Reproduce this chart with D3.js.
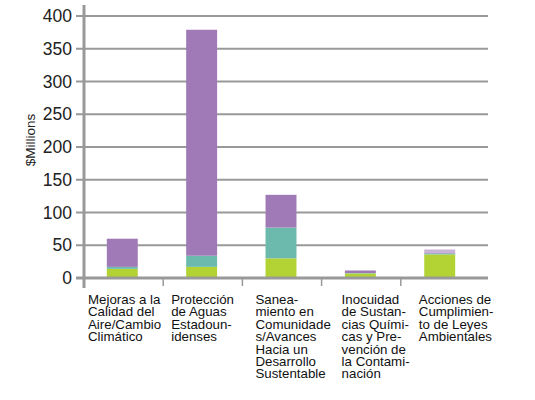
<!DOCTYPE html>
<html>
<head>
<meta charset="utf-8">
<script src="https://cdn.jsdelivr.net/npm/d3@7"></script>
<style>
  body { margin: 0; background: #fff; }
  .tick-label { font-family: "Liberation Sans Narrow", "Arial Narrow", sans-serif; font-size: 17.5px; fill: #222; }
  .cat-label { font-family: "Liberation Sans", Arial, sans-serif; font-size: 13.3px; fill: #111; }
  .y-title { font-family: "Liberation Sans", Arial, sans-serif; font-size: 13.5px; fill: #222; }
</style>
</head>
<body>
<div id="chart"></div>
<script>
// Categories (label lines as printed under each bar)
const categories = ["aire", "aguas", "saneamiento", "quimicas", "leyes"];
const categoryLines = [
    ["Mejoras a la", "Calidad del", "Aire/Cambio", "Climático"],
    ["Protección", "de Aguas", "Estadoun-", "idenses"],
    ["Sanea-", "miento en", "Comunidade", "s/Avances", "Hacia un", "Desarrollo", "Sustentable"],
    ["Inocuidad", "de Sustan-", "cias Quími-", "cas y Pre-", "vención de", "la Contami-", "nación"],
    ["Acciones de", "Cumplimien-", "to de Leyes", "Ambientales"]
];

// Stacked series values ($Millions), bottom to top
const greenValues    = [14, 17, 30, 7, 36];
const tealValues     = [3, 17, 47, 0.5, 1.5];
const purpleValues   = [43, 345, 50, 4, 1.5];
const lavenderValues = [0, 0, 0, 0, 4.5];

const yTicks = [0, 50, 100, 150, 200, 250, 300, 350, 400];

const seriesKeys = ["green", "teal", "purple", "lavender"];
const seriesColors = { green: "#b3d334", teal: "#6bbaad", purple: "#a07ab7", lavender: "#c8b3d7" };

// Table built for d3.stack
const table = categories.map((c, i) => ({
    cat: c,
    green: greenValues[i],
    teal: tealValues[i],
    purple: purpleValues[i],
    lavender: lavenderValues[i]
}));

const width = 535, height = 400;
const plot = { left: 84, right: 480, top: 16, bottom: 278, gridEnd: 488 };

const svg = d3.select("#chart").append("svg")
    .attr("width", width)
    .attr("height", height);

const x = d3.scaleBand()
    .domain(categories)
    .range([plot.left, plot.right])
    .paddingInner(0.61)
    .paddingOuter(0.3);

// band boundaries (without padding) for ticks and labels
const xb = d3.scaleBand()
    .domain(categories)
    .range([plot.left, plot.right]);

const y = d3.scaleLinear()
    .domain([0, 400])
    .range([plot.bottom, plot.top]);

// Gridlines (they also form the left tick marks)
svg.append("g")
    .selectAll("line")
    .data(yTicks.filter(d => d > 0))
  .enter().append("line")
    .attr("x1", plot.left - 8)
    .attr("x2", plot.gridEnd)
    .attr("y1", d => y(d))
    .attr("y2", d => y(d))
    .attr("stroke", "#999")
    .attr("stroke-width", 2);

// Y tick labels
svg.append("g")
    .selectAll("text")
    .data(yTicks)
  .enter().append("text")
    .attr("class", "tick-label")
    .attr("x", plot.left - 12)
    .attr("y", d => y(d))
    .attr("dy", "0.35em")
    .attr("text-anchor", "end")
    .text(d => d);

// Y axis title
svg.append("text")
    .attr("class", "y-title")
    .attr("transform", "translate(35,140) rotate(-90)")
    .attr("text-anchor", "middle")
    .text("$Millions");

// Stacked bars
const stacked = d3.stack().keys(seriesKeys)(table);

svg.append("g")
    .selectAll("g")
    .data(stacked)
  .enter().append("g")
    .attr("fill", d => seriesColors[d.key])
  .selectAll("rect")
    .data(d => d)
  .enter().append("rect")
    .attr("x", d => x(d.data.cat) - 1)
    .attr("width", x.bandwidth())
    .attr("y", d => y(d[1]))
    .attr("height", d => y(d[0]) - y(d[1]));

// X axis line and category separator ticks
svg.append("line")
    .attr("x1", plot.left - 8)
    .attr("x2", plot.gridEnd)
    .attr("y1", y(0))
    .attr("y2", y(0))
    .attr("stroke", "#999")
    .attr("stroke-width", 3);

svg.append("g")
    .selectAll("line")
    .data(categories.slice(1))
  .enter().append("line")
    .attr("x1", d => xb(d))
    .attr("x2", d => xb(d))
    .attr("y1", y(0))
    .attr("y2", y(0) + 8)
    .attr("stroke", "#999")
    .attr("stroke-width", 1.5);

// Y axis line
svg.append("line")
    .attr("x1", plot.left)
    .attr("x2", plot.left)
    .attr("y1", 5)
    .attr("y2", 288)
    .attr("stroke", "#999")
    .attr("stroke-width", 3);

// Category labels
const labelDx = [4, 8, 13, 20, 18];
const labels = svg.append("g")
    .selectAll("text")
    .data(categories)
  .enter().append("text")
    .attr("class", "cat-label")
    .attr("x", (d, i) => xb(d) + labelDx[i])
    .attr("y", 304);

labels.selectAll("tspan")
    .data((d, i) => categoryLines[i].map(line => ({ line, x: xb(d) + labelDx[i] })))
  .enter().append("tspan")
    .attr("x", d => d.x)
    .attr("dy", (d, j) => j === 0 ? 0 : 12.4)
    .text(d => d.line);
</script>
</body>
</html>
